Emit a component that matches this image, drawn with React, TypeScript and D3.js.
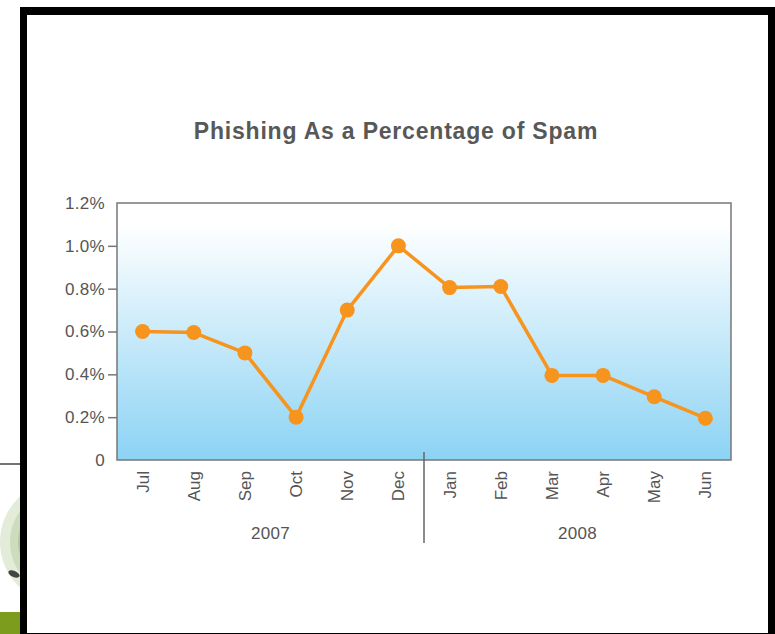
import React, { useEffect, useRef } from "react";
import * as d3 from "d3";

const months = ["Jul", "Aug", "Sep", "Oct", "Nov", "Dec", "Jan", "Feb", "Mar", "Apr", "May", "Jun"];
const phishing = [0.6, 0.595, 0.5, 0.2, 0.7, 1.0, 0.805, 0.81, 0.395, 0.395, 0.295, 0.195];
const yTicks = [0, 0.2, 0.4, 0.6, 0.8, 1.0, 1.2];
const years = [
  { label: "2007", from: 0, to: 5 },
  { label: "2008", from: 6, to: 11 },
];
const title = "Phishing As a Percentage of Spam";

const W = 775;
const H = 634;
const plot = { left: 117, right: 731, top: 203, bottom: 460 };
const FONT = "'Liberation Sans', Arial, Helvetica, sans-serif";

export default function App() {
  const ref = useRef<SVGSVGElement>(null);

  useEffect(() => {
    const svg = d3.select(ref.current);
    svg.selectAll("*").remove();

    const x = d3.scalePoint<string>().domain(months).range([plot.left, plot.right]).padding(0.5);
    const y = d3.scaleLinear().domain([0, 1.2]).range([plot.bottom, plot.top]);

    const defs = svg.append("defs");
    const grad = defs
      .append("linearGradient")
      .attr("id", "bg")
      .attr("x1", 0)
      .attr("y1", 0)
      .attr("x2", 0)
      .attr("y2", 1);
    grad.append("stop").attr("offset", "0%").attr("stop-color", "#ffffff");
    grad.append("stop").attr("offset", "8%").attr("stop-color", "#ffffff");
    grad.append("stop").attr("offset", "100%").attr("stop-color", "#8cd3f4");

    defs.append("clipPath").attr("id", "logoClip").append("rect").attr("x", 0).attr("y", 465).attr("width", 20).attr("height", 147);

    // page background
    svg.append("rect").attr("width", W).attr("height", H).attr("fill", "#ffffff");

    // left stray slide elements
    svg.append("line").attr("x1", 0).attr("x2", 20).attr("y1", 464).attr("y2", 464).attr("stroke", "#444").attr("stroke-width", 1.5);
    const logo = svg.append("g").attr("clip-path", "url(#logoClip)");
    logo.append("circle").attr("cx", 62).attr("cy", 542).attr("r", 62).attr("fill", "#e3ebd9");
    logo.append("circle").attr("cx", 62).attr("cy", 542).attr("r", 52).attr("fill", "#cddcbd");
    logo.append("circle").attr("cx", 62).attr("cy", 542).attr("r", 44).attr("fill", "#b3c99c");
    logo.append("ellipse").attr("cx", 14).attr("cy", 574).attr("rx", 6).attr("ry", 3).attr("fill", "#444").attr("transform", "rotate(25,14,574)");
    svg.append("rect").attr("x", 0).attr("y", 612).attr("width", 20).attr("height", 22).attr("fill", "#7b9c1c");

    // black frame
    svg.append("rect").attr("x", 20).attr("y", 7).attr("width", W - 20).attr("height", 8).attr("fill", "#000");
    svg.append("rect").attr("x", 20).attr("y", 7).attr("width", 7).attr("height", H - 7).attr("fill", "#000");
    svg.append("rect").attr("x", 768).attr("y", 7).attr("width", 7).attr("height", H - 7).attr("fill", "#000");
    svg.append("rect").attr("x", 20).attr("y", 633).attr("width", W - 20).attr("height", 1).attr("fill", "#000");

    // title
    svg
      .append("text")
      .attr("x", 396)
      .attr("y", 139)
      .attr("text-anchor", "middle")
      .attr("font-family", FONT)
      .attr("font-weight", "bold")
      .attr("font-size", 23)
      .attr("letter-spacing", 0.8)
      .attr("fill", "#585858")
      .text(title);

    // plot background
    svg
      .append("rect")
      .attr("x", plot.left)
      .attr("y", plot.top)
      .attr("width", plot.right - plot.left)
      .attr("height", plot.bottom - plot.top)
      .attr("fill", "url(#bg)")
      .attr("stroke", "#777")
      .attr("stroke-width", 1.5);

    // y axis
    const yAxis = d3
      .axisLeft(y)
      .tickValues(yTicks)
      .tickSize(9)
      .tickPadding(3)
      .tickFormat((d) => (+d === 0 ? "0" : `${(+d).toFixed(1)}%`));
    const ya = svg.append("g").attr("transform", `translate(${plot.left},0)`).call(yAxis);
    ya.select(".domain").remove();
    ya.selectAll(".tick line")
      .attr("stroke", "#777")
      .attr("stroke-width", 1.5)
      .filter((d: any) => d === 0 || d === 1.2)
      .remove();
    ya.selectAll(".tick text")
      .attr("font-family", FONT)
      .attr("font-size", 17)
      .attr("letter-spacing", 0.3)
      .attr("fill", "#555");

    // x labels
    svg
      .append("g")
      .selectAll("text")
      .data(months)
      .join("text")
      .attr("transform", (d) => `translate(${(x(d) as number) + 6},471) rotate(-90)`)
      .attr("text-anchor", "end")
      .attr("font-family", FONT)
      .attr("font-size", 17)
      .attr("fill", "#555")
      .text((d) => d);

    // divider between years
    const divX = ((x(months[5]) as number) + (x(months[6]) as number)) / 2;
    svg
      .append("line")
      .attr("x1", divX)
      .attr("x2", divX)
      .attr("y1", 452)
      .attr("y2", 543)
      .attr("stroke", "#666")
      .attr("stroke-width", 1.5);

    // year labels
    svg
      .append("g")
      .selectAll("text")
      .data(years)
      .join("text")
      .attr("x", (d) => ((x(months[d.from]) as number) + (x(months[d.to]) as number)) / 2)
      .attr("y", 539)
      .attr("text-anchor", "middle")
      .attr("font-family", FONT)
      .attr("font-size", 17)
      .attr("letter-spacing", 0.3)
      .attr("fill", "#555")
      .text((d) => d.label);

    // line
    const line = d3
      .line<number>()
      .x((_, i) => x(months[i]) as number)
      .y((d) => y(d));
    svg
      .append("path")
      .datum(phishing)
      .attr("d", line)
      .attr("fill", "none")
      .attr("stroke", "#f7941d")
      .attr("stroke-width", 3.5)
      .attr("stroke-linejoin", "round");

    svg
      .append("g")
      .selectAll("circle")
      .data(phishing)
      .join("circle")
      .attr("cx", (_, i) => x(months[i]) as number)
      .attr("cy", (d) => y(d))
      .attr("r", 7.5)
      .attr("fill", "#f7941d");
  }, []);

  return (
    <svg
      ref={ref}
      width={W}
      height={H}
      style={{ position: "absolute", left: 0, top: 0, display: "block" }}
    />
  );
}
